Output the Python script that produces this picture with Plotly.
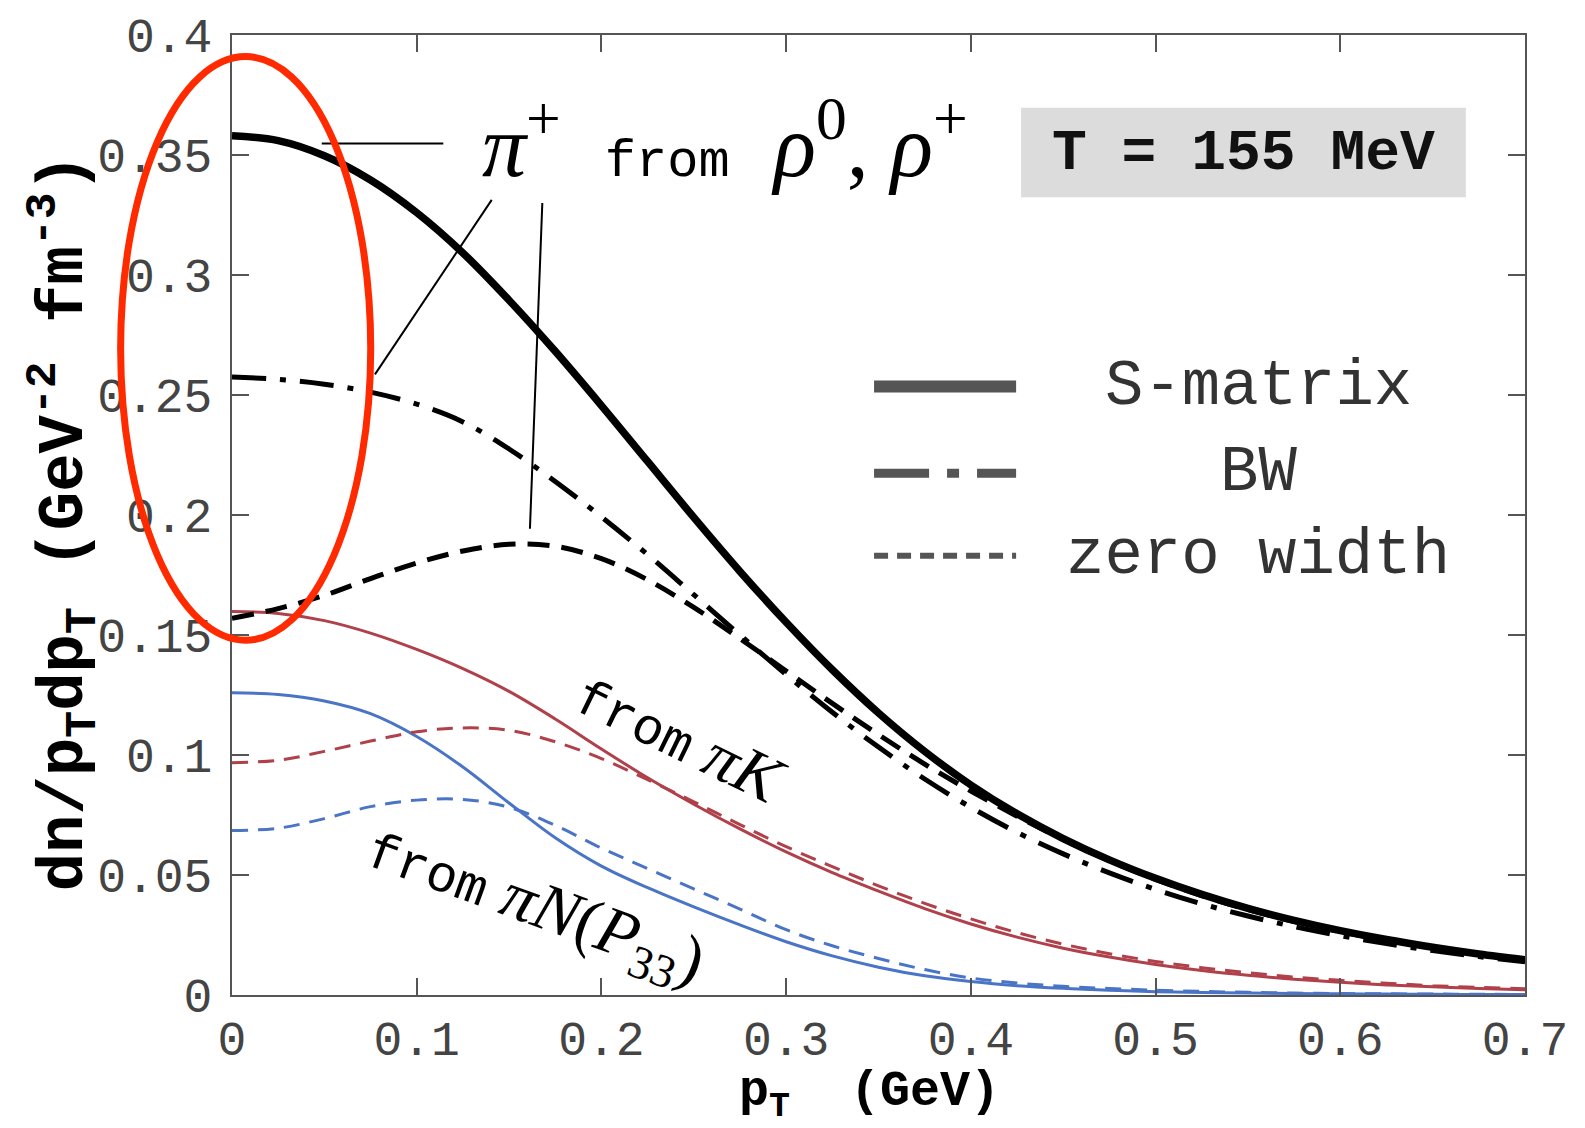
import plotly.graph_objects as go

# transverse momentum grid (GeV)
pt = [0.000, 0.025, 0.050, 0.075, 0.100, 0.125, 0.150, 0.175, 0.200, 0.225,
      0.250, 0.275, 0.300, 0.325, 0.350, 0.375, 0.400, 0.425, 0.450, 0.475,
      0.500, 0.525, 0.550, 0.575, 0.600, 0.625, 0.650, 0.675, 0.700]

# pi+ from rho0, rho+
rho_smatrix = [0.3580, 0.3560, 0.3497, 0.3396, 0.3260, 0.3092, 0.2895, 0.2682, 0.2456, 0.2223,
               0.1990, 0.1765, 0.1553, 0.1355, 0.1175, 0.1015, 0.0875, 0.0755, 0.0652, 0.0563,
               0.0486, 0.0419, 0.0361, 0.0311, 0.0268, 0.0231, 0.0199, 0.0171, 0.0147]
rho_bw = [0.2575, 0.2565, 0.2545, 0.2512, 0.2462, 0.2388, 0.2275, 0.2140, 0.1992, 0.1835,
          0.1668, 0.1500, 0.1335, 0.1178, 0.1033, 0.0900, 0.0782, 0.0678, 0.0588, 0.0509,
          0.0440, 0.0380, 0.0329, 0.0285, 0.0247, 0.0214, 0.0185, 0.0160, 0.0138]
rho_zero = [0.1570, 0.1610, 0.1665, 0.1735, 0.1800, 0.1850, 0.1878, 0.1870, 0.1818, 0.1730,
            0.1615, 0.1485, 0.1350, 0.1215, 0.1085, 0.0962, 0.0850, 0.0745, 0.0648, 0.0560,
            0.0482, 0.0414, 0.0356, 0.0306, 0.0264, 0.0228, 0.0197, 0.0170, 0.0146]

# from pi K
pik_smatrix = [0.1598, 0.1590, 0.1560, 0.1508, 0.1440, 0.1360, 0.1265, 0.1150, 0.1025, 0.0905,
               0.0795, 0.0692, 0.0596, 0.0510, 0.0433, 0.0360, 0.0296, 0.0241, 0.0195, 0.0158,
               0.0127, 0.0102, 0.0082, 0.0066, 0.0053, 0.0042, 0.0034, 0.0027, 0.0022]
pik_zero = [0.0968, 0.0978, 0.1015, 0.1058, 0.1097, 0.1113, 0.1103, 0.1055, 0.0985, 0.0897,
            0.0805, 0.0710, 0.0618, 0.0535, 0.0455, 0.0382, 0.0317, 0.0260, 0.0212, 0.0172,
            0.0140, 0.0114, 0.0093, 0.0075, 0.0061, 0.0049, 0.0039, 0.0032, 0.0026]

# from pi N (P33)
pin_smatrix = [0.1259, 0.1252, 0.1225, 0.1172, 0.1077, 0.0950, 0.0800, 0.0655, 0.0537, 0.0447,
               0.0367, 0.0292, 0.0222, 0.0163, 0.0116, 0.0080, 0.0056, 0.0039, 0.0028, 0.0020,
               0.0014, 0.0010, 0.0008, 0.0006, 0.0005, 0.0004, 0.0003, 0.0002, 0.0002]
pin_zero = [0.0685, 0.0695, 0.0735, 0.0785, 0.0812, 0.0815, 0.0782, 0.0707, 0.0612, 0.0527,
            0.0442, 0.0358, 0.0272, 0.0205, 0.0152, 0.0106, 0.0071, 0.0050, 0.0036, 0.0027,
            0.0020, 0.0015, 0.0011, 0.0008, 0.0006, 0.0005, 0.0004, 0.0003, 0.0002]

x_ticks = [0, 0.1, 0.2, 0.3, 0.4, 0.5, 0.6, 0.7]
x_ticktext = ["0", "0.1", "0.2", "0.3", "0.4", "0.5", "0.6", "0.7"]
y_ticks = [0, 0.05, 0.1, 0.15, 0.2, 0.25, 0.3, 0.35, 0.4]
y_ticktext = ["0", "0.05", "0.1", "0.15", "0.2", "0.25", "0.3", "0.35", "0.4"]

X_RANGE = [0, 0.7]
Y_RANGE = [0, 0.4]

MONO = "Liberation Mono"
SERIF = "Liberation Serif"
RED = "#b0404a"
BLUE = "#4a74c6"
NB = "\u00a0"

fig = go.Figure()


def curve(y, color, width, dash):
    fig.add_trace(go.Scatter(
        x=pt, y=y, mode="lines",
        line=dict(color=color, width=width, dash=dash, shape="spline", smoothing=1.0),
        showlegend=False, hoverinfo="skip"))


curve(pin_zero, BLUE, 3, "16px,10px")
curve(pin_smatrix, BLUE, 3, "solid")
curve(pik_zero, RED, 3, "16px,10px")
curve(pik_smatrix, RED, 3, "solid")
curve(rho_zero, "black", 5, "22px,12px")
curve(rho_bw, "black", 5, "34px,14px,6px,14px")
curve(rho_smatrix, "black", 7.5, "solid")

shapes = []

# pointer lines for the rho label
for (x0, y0, x1, y1) in [(0.0486, 0.3548, 0.1144, 0.3548),
                         (0.1406, 0.3313, 0.0774, 0.2586),
                         (0.1680, 0.3300, 0.1613, 0.1943)]:
    shapes.append(dict(type="line", xref="x", yref="y", x0=x0, y0=y0, x1=x1, y1=y1,
                       line=dict(color="black", width=2)))

# legend samples
leg_x0, leg_x1 = 0.3476, 0.4245
legend_rows = [("S-matrix", 0.2535, 12, "solid"),
               ("BW", 0.2174, 9, "55px,18px,12px,18px"),
               ("zero width", 0.1830, 6, "14px,9px")]
for label, yy, w, d in legend_rows:
    shapes.append(dict(type="line", xref="x", yref="y", x0=leg_x0, y0=yy, x1=leg_x1, y1=yy,
                       line=dict(color="#555555", width=w, dash=d)))

# temperature box
shapes.append(dict(type="rect", xref="x", yref="y", x0=0.4272, y0=0.3324, x1=0.668, y1=0.3697,
                   fillcolor="#dcdcdc", line=dict(width=0), layer="below"))


# highlight ellipse around the low-pT region (paper coordinates so it is not clipped)
def px(v):
    return (v - X_RANGE[0]) / (X_RANGE[1] - X_RANGE[0])


def py(v):
    return (v - Y_RANGE[0]) / (Y_RANGE[1] - Y_RANGE[0])


shapes.append(dict(type="circle", xref="paper", yref="paper",
                   x0=px(-0.0603), x1=px(0.0751), y0=py(0.1478), y1=py(0.3910),
                   line=dict(color="#ff2a00", width=7)))

annotations = []

for label, yy, w, d in legend_rows:
    annotations.append(dict(x=0.5555, y=yy, xref="x", yref="y", text=label, showarrow=False,
                            xanchor="center", yanchor="middle",
                            font=dict(family=MONO, size=64, color="#333333")))

annotations.append(dict(x=0.5474, y=0.3506, xref="x", yref="y", text="<b>T = 155 MeV</b>",
                        showarrow=False, xanchor="center", yanchor="middle",
                        font=dict(family=MONO, size=58, color="#111111")))

mono_span = "<span style='font-family:Liberation Mono;font-style:normal;font-size:52px'>%s</span>"

annotations.append(dict(
    x=0.1340, y=0.3565, xref="x", yref="y",
    text="<i>π</i><sup>+</sup>" + NB * 2 + mono_span % "from" + NB * 2
         + "<i>ρ</i><sup>0</sup>," + NB + "<i>ρ</i><sup>+</sup>",
    showarrow=False, xanchor="left", yanchor="middle",
    font=dict(family=SERIF, size=88, color="black")))

annotations.append(dict(
    x=0.2430, y=0.1075, xref="x", yref="y",
    text=mono_span % "from" + NB + "<i>πK</i>",
    showarrow=False, xanchor="center", yanchor="middle", textangle=26,
    font=dict(family=SERIF, size=66, color="black")))

annotations.append(dict(
    x=0.1640, y=0.0365, xref="x", yref="y",
    text=mono_span % "from" + NB + "<i>πN</i>(<i>P</i><sub>33</sub>)",
    showarrow=False, xanchor="center", yanchor="middle", textangle=20,
    font=dict(family=SERIF, size=67, color="black")))

# axis titles
annotations.append(dict(
    x=-0.131, y=0.492, xref="paper", yref="paper", textangle=-90,
    text="<b>dn/p<sub>T</sub>dp<sub>T</sub>" + NB + "(GeV<sup>-2</sup>" + NB
         + "fm<sup>-3</sup>)</b>",
    showarrow=False, xanchor="center", yanchor="middle",
    font=dict(family=MONO, size=64, color="black")))
annotations.append(dict(
    x=0.493, y=-0.104, xref="paper", yref="paper",
    text="<b>p<sub>T</sub>" + NB * 2 + "(GeV)</b>",
    showarrow=False, xanchor="center", yanchor="middle",
    font=dict(family=MONO, size=50, color="black")))

axis_common = dict(showgrid=False, zeroline=False, showline=True, mirror="allticks",
                   linecolor="#555555", linewidth=2, ticks="inside", ticklen=17,
                   tickwidth=2, tickcolor="#555555",
                   tickfont=dict(family=MONO, size=48, color="#444444"))

fig.update_layout(
    width=1585, height=1128,
    margin=dict(l=232, r=60, t=31, b=133),
    paper_bgcolor="white", plot_bgcolor="white",
    xaxis=dict(range=X_RANGE, tickvals=x_ticks, ticktext=x_ticktext,
               ticklabelstandoff=0, **axis_common),
    yaxis=dict(range=Y_RANGE, tickvals=y_ticks, ticktext=y_ticktext,
               ticklabelstandoff=8, **axis_common),
    shapes=shapes, annotations=annotations,
    showlegend=False,
)

fig.write_html("out.html")
